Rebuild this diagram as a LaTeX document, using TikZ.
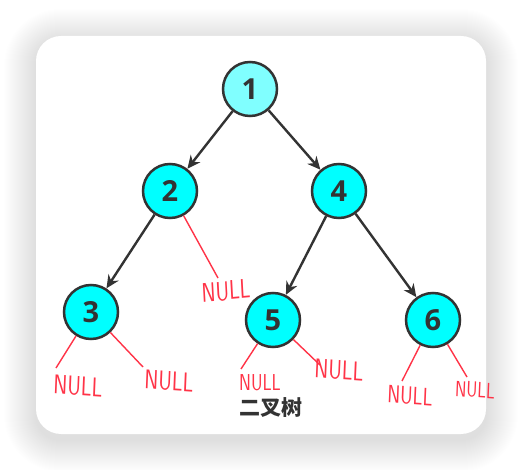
\documentclass[tikz,border=0pt]{standalone}
\usepackage{fontspec}
\setmainfont{Open Sans}
\newfontfamily\cjkfont{Noto Sans CJK SC}
\usetikzlibrary{arrows.meta}
\definecolor{nodeline}{HTML}{333333}
\definecolor{cyanfill}{HTML}{00FFFF}
\definecolor{lightcyan}{HTML}{80FFFF}
\definecolor{nullred}{HTML}{FF3347}
\tikzset{
  tnode/.style={circle, draw=nodeline, line width=2.5pt, fill=cyanfill, minimum size=54pt, inner sep=0pt, font=\fontsize{29}{32}\selectfont\bfseries, text=nodeline},
  edge/.style={draw=nodeline, line width=2.4pt, -{Stealth[length=13pt,width=12pt]}},
  nulline/.style={draw=nullred, line width=1.4pt},
  nulltext/.style={text=nullred, font=\fontsize{27}{30}\selectfont\sffamily, inner sep=0pt, xscale=0.78},
}
\begin{document}
\begin{tikzpicture}[x=1pt,y=-1pt]
\useasboundingbox (0,0) rectangle (522,470);
\fill[white] (0,0) rectangle (522,470);
% shadow
\foreach \i in {1,...,32}{
  \fill[black, opacity=0.0048, rounded corners={25pt+\i pt}] (36-\i,36-\i+5) rectangle (486+\i,434+\i+6);
}
\fill[white, rounded corners=25pt] (36,36) rectangle (486,434);
% nodes
\node[tnode, fill=lightcyan] (n1) at (250,89) {1};
\node[tnode] (n2) at (170,191) {2};
\node[tnode] (n4) at (339,191) {4};
\node[tnode] (n3) at (91,312) {3};
\node[tnode] (n5) at (273,320) {5};
\node[tnode] (n6) at (433,320) {6};
% edges
\draw[edge] (n1) -- (n2);
\draw[edge] (n1) -- (n4);
\draw[edge] (n2) -- (n3);
\draw[edge] (n4) -- (n5);
\draw[edge] (n4) -- (n6);
% null ends
\coordinate (e2r) at (218,278);
\coordinate (e3l) at (56,368);
\coordinate (e3r) at (143,367);
\coordinate (e5l) at (241,369);
\coordinate (e5r) at (320,365);
\coordinate (e6l) at (402,381);
\coordinate (e6r) at (467,377);
\draw[nulline] (n2) -- (e2r);
\draw[nulline] (n3) -- (e3l);
\draw[nulline] (n3) -- (e3r);
\draw[nulline] (n5) -- (e5l);
\draw[nulline] (n5) -- (e5r);
\draw[nulline] (n6) -- (e6l);
\draw[nulline] (n6) -- (e6r);
% NULL labels
\node[nulltext, rotate=4] (t2r) at (226,291) {NULL};
\node[nulltext, rotate=-3] (t3l) at (78,386) {NULL};
\node[nulltext, rotate=-3] (t3r) at (169,381) {NULL};
\node[nulltext, font=\fontsize{23}{26}\selectfont\sffamily] (t5l) at (260,383) {NULL};
\node[nulltext, rotate=-3] (t5r) at (339,370) {NULL};
\node[nulltext, font=\fontsize{25}{28}\selectfont\sffamily, rotate=-3] (t6l) at (410,396) {NULL};
\node[nulltext, font=\fontsize{22}{25}\selectfont\sffamily, rotate=-3] (t6r) at (475,390) {NULL};
% caption
\node[font=\cjkfont\bfseries\fontsize{21}{24}\selectfont, text=nodeline] (cap) at (271,408) {二叉树};
\end{tikzpicture}
\end{document}
